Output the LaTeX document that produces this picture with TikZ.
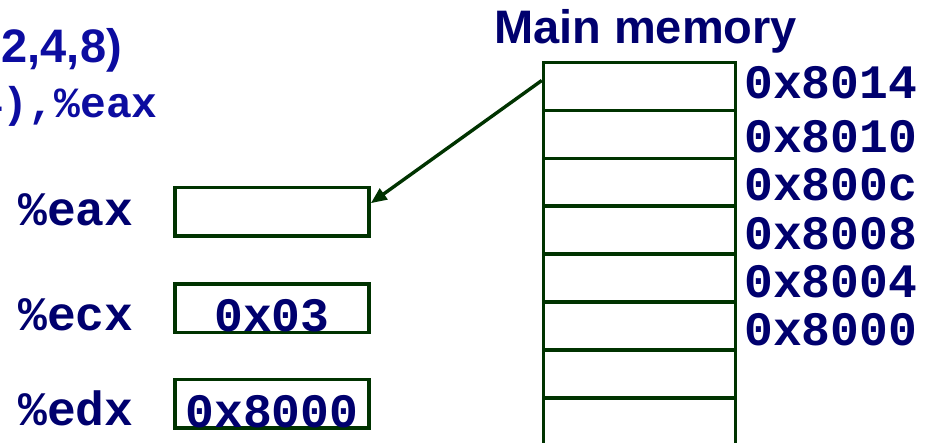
\documentclass[tikz,border=0pt]{standalone}
\usepackage{fontspec}
\setmainfont{Liberation Sans}
\newfontfamily\monofont{Liberation Mono}
\usetikzlibrary{arrows.meta}
\definecolor{navy}{RGB}{0,0,110}
\definecolor{brightblue}{RGB}{12,12,160}
\definecolor{boxgreen}{RGB}{0,51,0}
\begin{document}
\begin{tikzpicture}[x=1pt,y=-1pt,
  cell/.style={draw=boxgreen, line width=3.6pt, minimum width=192pt, minimum height=47.9pt, inner sep=0pt, anchor=north},
  reg/.style={draw=boxgreen, line width=3.6pt, minimum width=194pt, minimum height=48.5pt, inner sep=0pt},
  monotxt/.style={text=navy, inner sep=0pt, font=\monofont\bfseries\fontsize{48}{50}\selectfont},
  addr/.style={monotxt, anchor=base west},
  title/.style={text=navy, inner sep=0pt, font=\bfseries\fontsize{47}{50}\selectfont},
  fmt/.style={text=brightblue, inner sep=0pt, anchor=base east},
  link/.style={draw=boxgreen, line width=3.4pt, -{Triangle[length=16pt,width=13pt]}}
]
\useasboundingbox (0,0) rectangle (928,442);

% operand format lines
\node[fmt, font=\bfseries\fontsize{47}{50}\selectfont] (fmt1) at (122,62) {2,4,8)};
\node[fmt, font=\monofont\bfseries\fontsize{43}{46}\selectfont] (fmt2) at (158,117) {4),\%eax};

% main memory column
\node[title, anchor=base] (memtitle) at (645.5,43) {Main memory};
\foreach \i in {0,...,7} {
  \node[cell] (m\i) at (639.6,{60.7+47.9*\i}) {};
}

% addresses
\node[addr] (a14) at (744,98) {0x8014};
\node[addr] (a10) at (744,152) {0x8010};
\node[addr] (a0c) at (744,200) {0x800c};
\node[addr] (a08) at (744,249) {0x8008};
\node[addr] (a04) at (744,297) {0x8004};
\node[addr] (a00) at (744,345) {0x8000};

% registers
\node[reg] (eax) at (272,211.7) {};
\node[reg] (ecx) at (272,308.2) {};
\node[reg] (edx) at (272,403.9) {};
\node[addr] (leax) at (18,225) {\%eax};
\node[addr] (lecx) at (18,330) {\%ecx};
\node[addr] (ledx) at (18,425) {\%edx};
\node[monotxt, anchor=base] (vecx) at ([yshift=2.5pt]ecx.south) {0x03};
\node[monotxt, anchor=base] (vedx) at ([yshift=2.5pt]edx.south) {0x8000};

% load from memory into %eax
\draw[link] ([yshift=6pt]m0.west) -- ([yshift=8.5pt]eax.east);
\end{tikzpicture}
\end{document}
